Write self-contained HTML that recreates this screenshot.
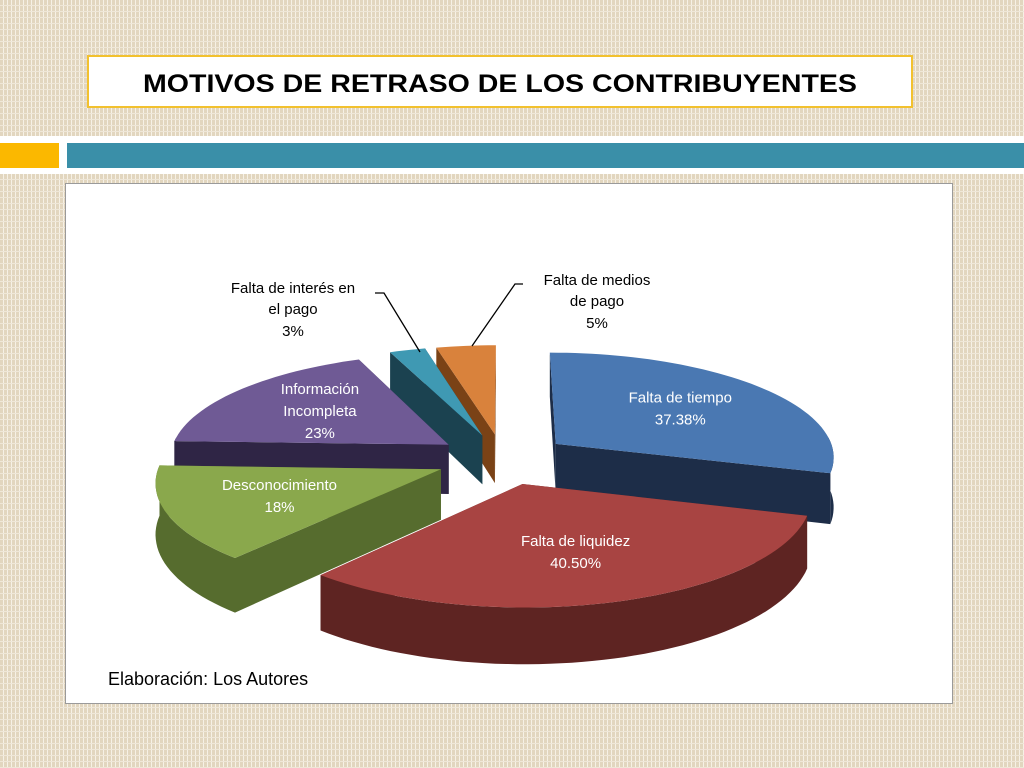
<!DOCTYPE html>
<html><head><meta charset="utf-8">
<style>
html,body{margin:0;padding:0;width:1024px;height:768px;overflow:hidden;background:#e9dfcc;}
svg{display:block;font-family:"Liberation Sans",sans-serif;}
</style></head>
<body>
<svg id="root" width="1024" height="768" viewBox="0 0 1024 768">
<defs>
<pattern id="bg" width="4" height="6" patternUnits="userSpaceOnUse">
<rect width="4" height="6" fill="#e2d6bf"/>
<rect x="3" width="1" height="6" fill="#f6f1e6"/>
<rect y="5" width="4" height="1" fill="#efe7d8"/>
</pattern>
</defs>
<rect width="1024" height="768" fill="url(#bg)"/>
<rect x="88" y="56" width="824" height="51" fill="#fff" stroke="#f2c12e" stroke-width="2"/>
<text x="500" y="92" text-anchor="middle" font-size="25" font-weight="bold" textLength="714" lengthAdjust="spacingAndGlyphs" fill="#000">MOTIVOS DE RETRASO DE LOS CONTRIBUYENTES</text>
<rect x="0" y="136" width="1024" height="38" fill="#fff"/>
<rect x="0" y="143" width="59" height="25" fill="#fbb800"/>
<rect x="67" y="143" width="957" height="25" fill="#3a8fa8"/>
<rect x="65.5" y="183.5" width="887" height="520" fill="#fff" stroke="#9a9a9a" stroke-width="1"/>
<g id="pie"></g>
<g>
<text x="293" y="293" text-anchor="middle" font-size="15" fill="#000"><tspan x="293">Falta de interés en</tspan><tspan x="293" dy="21">el pago</tspan><tspan x="293" dy="22">3%</tspan></text>
<polyline points="375,293 384,293 420,352" fill="none" stroke="#000" stroke-width="1.3"/>
<text x="597" y="285" text-anchor="middle" font-size="15" fill="#000"><tspan x="597">Falta de medios</tspan><tspan x="597" dy="21">de pago</tspan><tspan x="597" dy="22">5%</tspan></text>
<polyline points="523,284 515,284 472,346" fill="none" stroke="#000" stroke-width="1.3"/>
</g>
<text x="108" y="685" font-size="18" fill="#000">Elaboración: Los Autores</text>
</svg>
<script>
const categories = ["Falta de tiempo","Falta de liquidez","Desconocimiento","Información Incompleta","Falta de interés en el pago","Falta de medios de pago"];
const values = [37.38, 40.50, 18, 23, 3, 5];
const valueLabels = ["37.38%","40.50%","18%","23%","3%","5%"];
const topColors = ["#4a78b2","#a84442","#8aa84c","#6f5a95","#3f99b3","#d9823c"];
const sideColors = ["#1d2d48","#5e2422","#566c2e","#2f2545","#1b4250","#7a4216"];
const NS="http://www.w3.org/2000/svg";
const CX=503, CY=459, R=280, TILT=0.38, PERS=0.11, DEPTH=50, EXPL=67;
function proj(u,w,z){const s=1+PERS*w/R;return [CX+u*s, CY+w*TILT*s + z*s];}
function dir(a){const r=a*Math.PI/180;return [Math.sin(r),-Math.cos(r)];}
const total=values.reduce((a,b)=>a+b,0);
const pie=document.getElementById('pie');
function poly(pts,fill,name){const p=document.createElementNS(NS,'polygon');p.setAttribute('points',pts.map(q=>q[0].toFixed(1)+','+q[1].toFixed(1)).join(' '));p.setAttribute('fill',fill);


return p;}
let slices=[],acc=0;
values.forEach((v,i)=>{const a0=acc/total*360;acc+=v;const a1=acc/total*360;slices.push({i,a0,a1,mid:(a0+a1)/2});});
slices.sort((a,b)=>(-Math.cos(a.mid*Math.PI/180))-(-Math.cos(b.mid*Math.PI/180)));
slices.forEach(s=>{
  const g=document.createElementNS(NS,'g');
  
  
  const md=dir(s.mid);const ou=md[0]*EXPL, ow=md[1]*EXPL;
  const P=(u,w,z)=>proj(u+ou,w+ow,z);
  const arcPts=[];const n=Math.max(4,Math.ceil((s.a1-s.a0)/2));
  for(let k=0;k<=n;k++){const a=s.a0+(s.a1-s.a0)*k/n;const d=dir(a);arcPts.push([d[0]*R,d[1]*R,a]);}
  const faces=[];
  [s.a0,s.a1].forEach(a=>{const d=dir(a);faces.push({w:d[1],pts:[P(0,0,0),P(d[0]*R,d[1]*R,0),P(d[0]*R,d[1]*R,DEPTH),P(0,0,DEPTH)]});});
  faces.sort((a,b)=>a.w-b.w).forEach(f=>g.appendChild(poly(f.pts,sideColors[s.i],'slice-side-face')));
  const vis=arcPts.filter(p=>p[1]>-20);
  if(vis.length>1){const top=vis.map(p=>P(p[0],p[1],0));const bot=vis.map(p=>P(p[0],p[1],DEPTH)).reverse();
    g.appendChild(poly(top.concat(bot),sideColors[s.i],'slice-outer-wall'));}
  const topPts=[P(0,0,0)].concat(arcPts.map(p=>P(p[0],p[1],0)));
  g.appendChild(poly(topPts,topColors[s.i],'slice-top'));
  pie.appendChild(g);
  s.P=P;s.md=md;
});
const inside=[0,1,2,3];
const lblNames=[["Falta de tiempo"],["Falta de liquidez"],["Desconocimiento"],["Información","Incompleta"]];
slices.filter(s=>inside.includes(s.i)).forEach(s=>{
  const r=R*0.6;const pos=s.P(s.md[0]*r,s.md[1]*r,0);
  const t=document.createElementNS(NS,'text');
  
  
  t.setAttribute('text-anchor','middle');t.setAttribute('font-size','15');t.setAttribute('fill','#fff');
  const lines=lblNames[s.i].concat([valueLabels[s.i]]);
  const y0=pos[1]-(lines.length-1)*11+5;
  lines.forEach((l,k)=>{const ts=document.createElementNS(NS,'tspan');ts.setAttribute('x',pos[0].toFixed(1));ts.setAttribute('y',(y0+k*22).toFixed(1));ts.textContent=l;t.appendChild(ts);});
  pie.appendChild(t);
});
</script>
</body></html>
